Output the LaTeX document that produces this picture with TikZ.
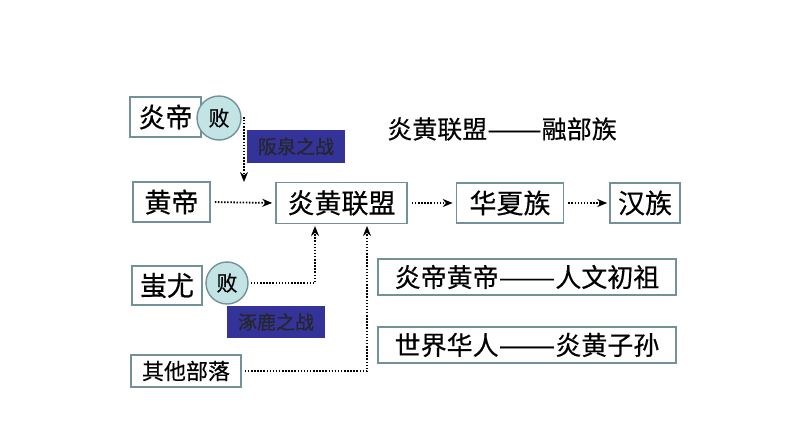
\documentclass[tikz,border=0pt]{standalone}
\usepackage{fontspec}
\setmainfont{Noto Sans CJK SC}[FakeBold=0.4]
\usetikzlibrary{arrows.meta,calc}
\definecolor{boxline}{RGB}{115,145,155}
\definecolor{circfill}{RGB}{195,228,228}
\definecolor{labelblue}{RGB}{51,51,153}
\newcommand{\longdash}{\scalebox{1.3}[1]{——}}
\tikzset{
  box/.style={draw=boxline,line width=1.6pt,fill=white,inner sep=0pt,font=\fontsize{27}{30}\selectfont},
  smallbox/.style={box,font=\fontsize{22}{26}\selectfont},
  widebox/.style={box,font=\fontsize{26}{28}\selectfont},
  bai/.style={circle,draw=boxline,line width=1.4pt,fill=circfill,inner sep=0pt,minimum size=44pt,font=\fontsize{21}{24}\selectfont},
  battle/.style={fill=labelblue,inner sep=0pt,text=black!85,font=\fontsize{19}{22}\selectfont},
  arr/.style={line width=1.8pt,dash pattern=on 1.5pt off 1.6pt,-{Stealth[length=10pt,width=8pt]}}
}
\begin{document}
\begin{tikzpicture}[x=1pt,y=-1pt]
\useasboundingbox (0,0) rectangle (794,447);
% top row
\node[box,minimum width=71pt,minimum height=40pt] (yandi) at (165.5,117) {炎帝};
\node[bai] (bai1) at (219,118) {败};
\node[battle,minimum width=98pt,minimum height=33pt] (banquan) at (296,146.5) {阪泉之战};
\node[box,minimum width=77pt,minimum height=40pt] (huangdi) at (171.5,202) {黄帝};
\node[box,minimum width=131pt,minimum height=41pt] (lianmeng) at (341.5,203) {炎黄联盟};
\node[box,minimum width=107pt,minimum height=40pt] (huaxia) at (510,203) {华夏族};
\node[box,minimum width=70pt,minimum height=40pt] (hanzu) at (645,203) {汉族};
\node[font=\fontsize{25}{28}\selectfont,inner sep=0pt] (title) at (502,129) {炎黄联盟\longdash 融部族};
% right column
\node[widebox,minimum width=298pt,minimum height=36pt] (renwen) at (527,277) {炎帝黄帝\longdash 人文初祖};
\node[widebox,minimum width=298pt,minimum height=36pt] (shijie) at (527,345) {世界华人\longdash 炎黄子孙};
% bottom left
\node[box,minimum width=70pt,minimum height=39pt] (chiyou) at (167,285.5) {蚩尤};
\node[bai,minimum size=42pt] (bai2) at (227,283) {败};
\node[battle,minimum width=98pt,minimum height=32pt] (zhuolu) at (276,322) {涿鹿之战};
\node[smallbox,minimum width=110pt,minimum height=32pt] (qita) at (186,371) {其他部落};
% connectors
\coordinate (c1) at (244,182);
\coordinate (t1) at (315,226);
\coordinate (t2) at (367,226);
\draw[arr] ([xshift=1pt]bai1.east) -| (c1);
\draw[arr,shorten <=4pt,shorten >=3pt] (huangdi.east) -- (lianmeng.west);
\draw[arr,shorten <=4pt,shorten >=3pt] (lianmeng.east) -- (huaxia.west);
\draw[arr,shorten <=4pt,shorten >=2pt] (huaxia.east) -- (hanzu.west);
\draw[arr,shorten <=2pt] (bai2.east) -| (t1);
\draw[arr,shorten <=3pt] (qita.east) -| (t2);
\end{tikzpicture}
\end{document}
